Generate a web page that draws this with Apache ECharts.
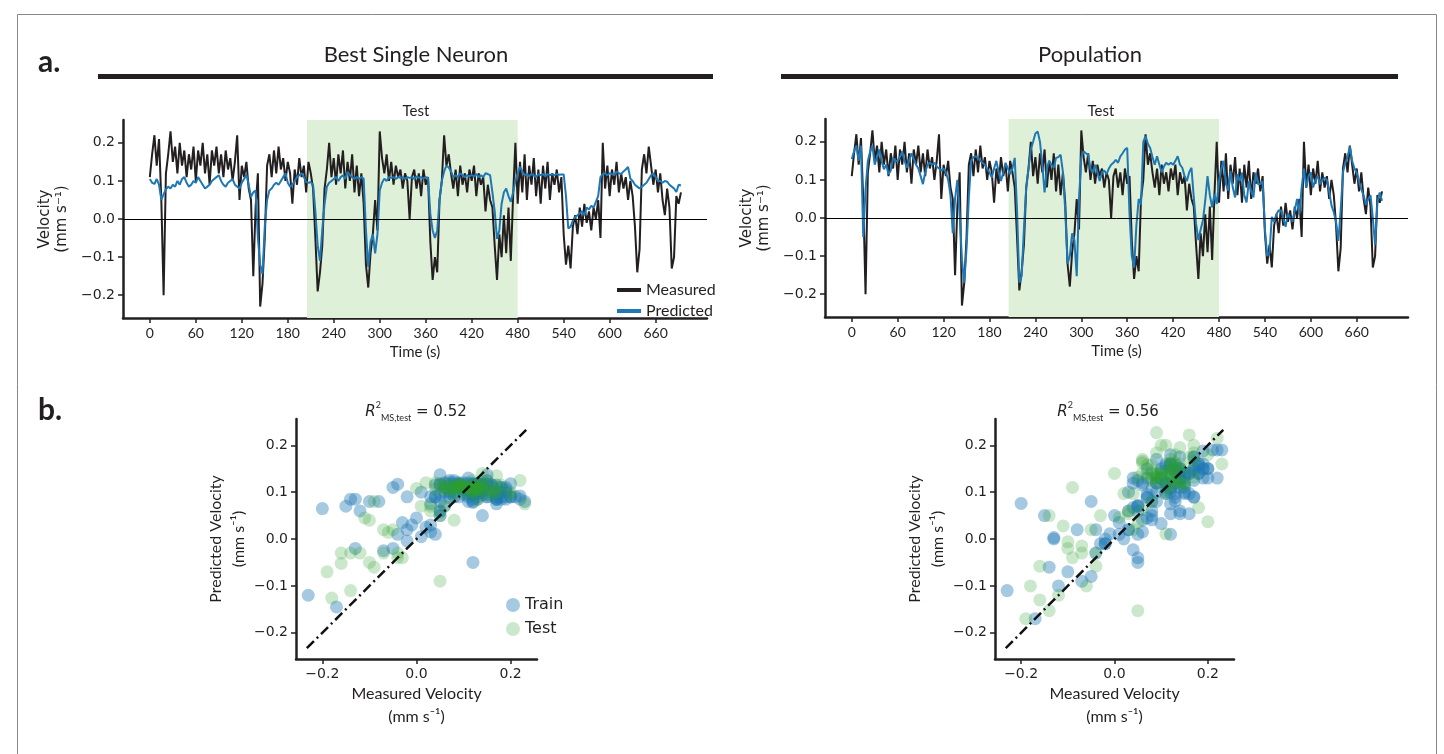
<!DOCTYPE html>
<html>
<head>
<meta charset="utf-8">
<title>Velocity decoding</title>
<script src="https://cdn.jsdelivr.net/npm/echarts@6/dist/echarts.min.js"></script>
<style>
  html, body { margin: 0; padding: 0; background: #fff; }
  #chart { width: 1444px; height: 754px; }
</style>
</head>
<body>
<div id="chart"></div>
<script>
// sampling step of the traces, seconds
const dt = 3;
const testStart = 205;
const testEnd = 480;

const timeTicks = [0, 60, 120, 180, 240, 300, 360, 420, 480, 540, 600, 660];
const velTicks = [-0.2, -0.1, 0, 0.1, 0.2];
const measTicks = [-0.2, 0, 0.2];

const r2Single = '0.52';
const r2Population = '0.56';

// measured velocity (mm/s), one value every 3 s from t = 0
const measured = [
  0.11, 0.17, 0.22, 0.14, 0.21, 0.05, -0.20, 0.12, 0.17, 0.23,
  0.15, 0.19, 0.12, 0.20, 0.14, 0.18, 0.11, 0.17, 0.13, 0.19,
  0.10, 0.18, 0.14, 0.20, 0.12, 0.17, 0.09, 0.18, 0.14, 0.19,
  0.12, 0.17, 0.11, 0.18, 0.13, 0.16, 0.10, 0.15, 0.22, 0.05,
  0.14, 0.11, 0.15, 0.08, 0.05, -0.15, 0.03, 0.12, -0.23, -0.17,
  -0.05, 0.14, 0.17, 0.11, 0.18, 0.12, 0.19, 0.13, 0.16, 0.10,
  0.15, 0.12, 0.04, 0.13, 0.09, 0.16, 0.11, 0.14, 0.07, 0.15,
  0.12, 0.08, -0.05, -0.19, -0.14, -0.07, 0.08, 0.13, 0.20, 0.11,
  0.16, 0.09, 0.17, 0.12, 0.18, 0.08, 0.15, 0.10, 0.17, 0.07,
  0.14, 0.06, 0.12, 0.04, -0.12, -0.18, -0.09, -0.04, 0.05, -0.03,
  0.23, 0.16, 0.12, 0.17, 0.10, 0.15, 0.09, 0.14, 0.11, 0.13,
  0.08, 0.12, 0.10, 0.00, 0.11, 0.13, 0.08, 0.12, 0.06, 0.13,
  0.09, 0.11, -0.06, -0.16, -0.10, -0.14, 0.05, 0.10, 0.22, 0.14,
  0.17, 0.12, 0.08, 0.13, 0.06, 0.14, 0.09, 0.12, 0.07, 0.13,
  0.10, 0.14, 0.06, 0.12, 0.09, 0.11, 0.02, 0.09, 0.05, 0.03,
  -0.07, -0.16, -0.04, -0.10, 0.01, -0.09, 0.03, -0.11, 0.06, 0.20,
  0.04, 0.15, 0.07, 0.17, 0.05, 0.14, 0.09, 0.16, 0.06, 0.13,
  0.04, 0.14, 0.08, 0.15, 0.05, 0.12, 0.09, 0.13, 0.07, 0.11,
  -0.04, -0.12, -0.07, -0.13, -0.02, 0.01, -0.04, 0.03, -0.02, 0.04,
  -0.01, 0.02, -0.03, 0.03, 0.00, 0.05, -0.05, 0.20, 0.08, 0.14,
  0.06, 0.13, 0.09, 0.15, 0.07, 0.12, 0.08, 0.11, 0.05, 0.10,
  0.06, -0.02, -0.14, -0.08, 0.13, 0.17, 0.12, 0.19, 0.14, 0.09,
  0.13, 0.07, 0.12, 0.05, 0.01, 0.08, 0.03, -0.13, -0.10, 0.06,
  0.04, 0.07
];

// prediction from the best single neuron
const predSingle = [
  0.105, 0.095, 0.092, 0.105, 0.09, 0.05, 0.065, 0.078, 0.085, 0.08,
  0.09, 0.085, 0.10, 0.09, 0.105, 0.11, 0.095, 0.085, 0.09, 0.10,
  0.095, 0.11, 0.10, 0.09, 0.08, 0.085, 0.09, 0.10, 0.105, 0.11,
  0.115, 0.10, 0.09, 0.085, 0.095, 0.10, 0.105, 0.09, 0.085, 0.08,
  0.095, 0.105, 0.117, 0.09, 0.058, 0.07, 0.075, -0.05, -0.12, -0.145,
  -0.02, 0.05, 0.075, 0.08, 0.09, 0.095, 0.09, 0.10, 0.11, 0.12,
  0.095, 0.085, 0.09, 0.10, 0.11, 0.115, 0.12, 0.11, 0.097, 0.095,
  0.097, 0.09, 0.02, -0.07, -0.11, -0.03, 0.04, 0.085, 0.095, 0.10,
  0.105, 0.11, 0.10, 0.11, 0.115, 0.105, 0.124, 0.115, 0.11, 0.105,
  0.11, 0.105, 0.11, 0.106, -0.03, -0.126, -0.06, -0.04, -0.09, -0.04,
  0.075, 0.095, 0.106, 0.10, 0.11, 0.108, 0.11, 0.105, 0.11, 0.108,
  0.11, 0.105, 0.11, 0.108, 0.11, 0.105, 0.112, 0.108, 0.11, 0.106,
  0.11, 0.108, 0.014, -0.03, -0.05, -0.03, 0.05, 0.10, 0.125, 0.14,
  0.135, 0.125, 0.11, 0.115, 0.11, 0.12, 0.115, 0.11, 0.115, 0.112,
  0.115, 0.112, 0.118, 0.11, 0.115, 0.11, 0.12, 0.118, 0.115, 0.07,
  0.02, -0.052, -0.03, 0.04, 0.07, 0.08, 0.06, 0.045, 0.07, 0.10,
  0.12, 0.137, 0.125, 0.115, 0.118, 0.112, 0.118, 0.115, 0.11, 0.118,
  0.115, 0.118, 0.112, 0.118, 0.115, 0.118, 0.115, 0.118, 0.116, 0.117,
  0.117, 0.06, -0.025, -0.02, -0.004, 0.005, 0.01, 0.015, 0.02, 0.01,
  0.03, 0.025, 0.035, 0.03, 0.045, 0.06, 0.11, 0.118, 0.12, 0.115,
  0.12, 0.118, 0.115, 0.125, 0.12, 0.118, 0.125, 0.13, 0.137, 0.106,
  0.10, 0.09, 0.085, 0.08, 0.085, 0.09, 0.095, 0.105, 0.115, 0.12,
  0.11, 0.10, 0.10, 0.095, 0.10, 0.098, 0.09, 0.085, 0.08, 0.071,
  0.09, 0.088
];

// prediction from the whole population
const predPopulation = [
  0.155, 0.175, 0.19, 0.15, 0.19, -0.05, 0.076, 0.15, 0.175, 0.19,
  0.14, 0.16, 0.18, 0.15, 0.128, 0.14, 0.115, 0.125, 0.158, 0.15,
  0.15, 0.16, 0.175, 0.15, 0.132, 0.15, 0.17, 0.155, 0.14, 0.13,
  0.11, 0.089, 0.12, 0.14, 0.145, 0.14, 0.145, 0.135, 0.13, 0.125,
  0.13, 0.12, 0.10, 0.06, -0.04, 0.05, 0.10, 0.01, -0.11, -0.17,
  -0.08, 0.054, 0.15, 0.16, 0.162, 0.158, 0.15, 0.145, 0.14, 0.128,
  0.12, 0.106, 0.13, 0.15, 0.12, 0.097, 0.12, 0.145, 0.13, 0.115,
  0.13, 0.158, 0.02, -0.17, -0.153, -0.03, 0.08, 0.13, 0.18, 0.20,
  0.222, 0.227, 0.20, 0.14, 0.067, 0.13, 0.15, 0.14, 0.132, 0.158,
  0.16, 0.166, 0.12, 0.02, -0.12, -0.10, -0.04, -0.058, -0.153, 0.05,
  0.16, 0.175, 0.17, 0.166, 0.13, 0.119, 0.14, 0.12, 0.097, 0.12,
  0.125, 0.115, 0.13, 0.14, 0.145, 0.153, 0.145, 0.162, 0.17, 0.18,
  0.184, 0.011, -0.10, -0.13, -0.02, 0.05, 0.035, 0.20, 0.215, 0.195,
  0.184, 0.16, 0.14, 0.162, 0.14, 0.12, 0.135, 0.145, 0.14, 0.145,
  0.14, 0.15, 0.162, 0.14, 0.132, 0.11, 0.097, 0.12, 0.132, 0.054,
  -0.015, -0.058, -0.03, -0.006, 0.046, 0.11, 0.06, 0.028, 0.063, 0.037,
  0.097, 0.13, 0.15, 0.09, 0.072, 0.123, 0.08, 0.054, 0.115, 0.097,
  0.119, 0.06, 0.041, 0.097, 0.07, 0.054, 0.119, 0.089, 0.089, 0.097,
  -0.03, -0.10, -0.09, 0.003, -0.01, 0.01, 0.02, 0.02, 0.00, -0.023,
  0.011, 0.0, -0.01, 0.02, 0.05, 0.01, 0.08, 0.13, 0.08, 0.11,
  0.12, 0.08, 0.10, 0.11, 0.089, 0.10, 0.106, 0.10, 0.07, 0.033,
  0.015, -0.01, -0.06, 0.02, 0.12, 0.145, 0.16, 0.188, 0.15, 0.13,
  0.119, 0.095, 0.075, 0.059, 0.035, 0.05, 0.06, 0.0, -0.07, 0.04,
  0.067, 0.045
];

const INK = '#231f20';
const BLUE = '#1f77b4';
const SANS = 'Lato, "Open Sans", sans-serif';
const MPL = '"DejaVu Sans", sans-serif';

const trace = vals => vals.map((v, i) => [i * dt, v]);
const isTest = i => i * dt >= testStart && i * dt <= testEnd;
const pairs = (pred, wantTest) =>
  measured.map((m, i) => [m, pred[i], i]).filter(p => isTest(p[2]) === wantTest).map(p => [p[0], p[1]]);

const fmt = v => (v < 0 ? '\u2212' : '') + Math.abs(v).toFixed(1);

const chart = echarts.init(document.getElementById('chart'));

function timeAxis(gridIndex) {
  return {
    type: 'value', gridIndex, min: -35, max: 727,
    name: 'Time (s)', nameLocation: 'middle', nameGap: 27,
    nameTextStyle: { fontFamily: SANS, fontSize: 15, color: INK },
    axisLine: { onZero: false, lineStyle: { color: INK, width: 2.5 } },
    axisTick: { customValues: timeTicks, length: 5, lineStyle: { color: INK, width: 1.5 } },
    axisLabel: { customValues: timeTicks, margin: 8, fontFamily: SANS, fontSize: 14, color: INK },
    splitLine: { show: false }
  };
}

function velAxis(gridIndex) {
  return {
    type: 'value', gridIndex, min: -0.26, max: 0.26,
    name: 'Velocity\n(mm s\u207B\u00B9)', nameLocation: 'middle', nameGap: 52, nameRotate: 90,
    nameTextStyle: { fontFamily: MPL, fontSize: 15, lineHeight: 17, color: INK },
    axisLine: { onZero: false, lineStyle: { color: INK, width: 2.5 } },
    axisTick: { customValues: velTicks, length: 5, lineStyle: { color: INK, width: 1.5 } },
    axisLabel: { customValues: velTicks, margin: 8, fontFamily: MPL, fontSize: 14, color: INK, formatter: fmt },
    splitLine: { show: false }
  };
}

function scatterAxis(gridIndex, isX) {
  const ticks = isX ? measTicks : velTicks;
  return {
    type: 'value', gridIndex, min: -0.256, max: 0.256,
    name: isX ? 'Measured Velocity\n(mm s\u207B\u00B9)' : 'Predicted Velocity\n(mm s\u207B\u00B9)',
    nameLocation: 'middle', nameGap: isX ? 22 : 46, nameRotate: isX ? 0 : 90,
    nameTextStyle: { fontFamily: SANS, fontSize: 16, lineHeight: 23, color: INK },
    axisLine: { onZero: false, lineStyle: { color: INK, width: 2.5 } },
    axisTick: { customValues: ticks, length: 5, lineStyle: { color: INK, width: 1.5 } },
    axisLabel: { customValues: ticks, margin: 8, fontFamily: MPL, fontSize: 14, color: INK, formatter: fmt },
    splitLine: { show: false }
  };
}

function tracePanel(gi, pred) {
  return [
    {
      type: 'line', xAxisIndex: gi, yAxisIndex: gi, data: [], z: 1, silent: true,
      markArea: {
        silent: true,
        itemStyle: { color: '#dff0d8' },
        data: [[{ xAxis: testStart }, { xAxis: testEnd }]]
      }
    },
    {
      type: 'line', xAxisIndex: gi, yAxisIndex: gi, data: [], z: 2, silent: true,
      markLine: {
        silent: true, symbol: 'none', label: { show: false },
        lineStyle: { color: '#000', width: 1, type: 'solid' },
        data: [{ yAxis: 0 }]
      }
    },
    {
      name: 'Measured', type: 'line', xAxisIndex: gi, yAxisIndex: gi, z: 3,
      data: trace(measured), showSymbol: false,
      lineStyle: { color: INK, width: 2 }, itemStyle: { color: INK }
    },
    {
      name: 'Predicted', type: 'line', xAxisIndex: gi, yAxisIndex: gi, z: 4,
      data: trace(pred), showSymbol: false,
      lineStyle: { color: BLUE, width: 2 }, itemStyle: { color: BLUE }
    }
  ];
}

function scatterPanel(gi, pred) {
  return [
    {
      name: 'Train', type: 'scatter', xAxisIndex: gi, yAxisIndex: gi, z: 2,
      symbolSize: 13, data: pairs(pred, false),
      itemStyle: { color: 'rgba(31,119,180,0.5)' }
    },
    {
      name: 'Test', type: 'scatter', xAxisIndex: gi, yAxisIndex: gi, z: 3,
      symbolSize: 13, data: pairs(pred, true),
      itemStyle: { color: 'rgba(44,160,44,0.3)' }
    },
    {
      type: 'line', xAxisIndex: gi, yAxisIndex: gi, z: 4, silent: true,
      data: [[-0.233, -0.233], [0.233, 0.233]], showSymbol: false,
      lineStyle: { color: '#111', width: 2.5, type: [10, 4, 2, 4] }
    }
  ];
}

function r2Text(x, value) {
  return {
    type: 'text', x, y: 412,
    style: {
      text: '{i|R}{sup|2}{sub|MS,test}{n| = ' + value + '}',
      textAlign: 'center', textVerticalAlign: 'middle', align: 'center', verticalAlign: 'middle',
      rich: {
        i: { fontFamily: MPL, fontStyle: 'italic', fontSize: 15, lineHeight: 22, fill: INK, verticalAlign: 'middle' },
        sup: { fontFamily: SANS, fontSize: 9, lineHeight: 22, fill: INK, verticalAlign: 'top' },
        sub: { fontFamily: SANS, fontSize: 9, lineHeight: 22, fill: INK, verticalAlign: 'bottom' },
        n: { fontFamily: MPL, fontSize: 15, lineHeight: 22, fill: INK, verticalAlign: 'middle' }
      }
    }
  };
}

function label(x, y, text, font) {
  return {
    type: 'text', x, y,
    style: { text, font, fill: INK, textAlign: 'center', textVerticalAlign: 'middle', align: 'center', verticalAlign: 'middle' }
  };
}

const option = {
  animation: false,
  backgroundColor: '#fff',
  grid: [
    { left: 123, top: 120, width: 584, height: 198 },
    { left: 825, top: 119, width: 583, height: 198 },
    { left: 296, top: 419, width: 241, height: 240 },
    { left: 995, top: 419, width: 239, height: 240 }
  ],
  xAxis: [timeAxis(0), timeAxis(1), scatterAxis(2, true), scatterAxis(3, true)],
  yAxis: [velAxis(0), velAxis(1), scatterAxis(2, false), scatterAxis(3, false)],
  legend: [
    {
      data: ['Measured', 'Predicted'], left: 612, top: 277, orient: 'vertical',
      icon: 'rect', itemWidth: 24, itemHeight: 4, itemGap: 5,
      textStyle: { fontFamily: SANS, fontSize: 16, color: INK }
    },
    {
      data: ['Train', 'Test'], left: 501, top: 592, orient: 'vertical',
      icon: 'circle', itemWidth: 14, itemHeight: 14, itemGap: 8,
      textStyle: { fontFamily: MPL, fontSize: 16, color: INK }
    }
  ],
  series: [
    ...tracePanel(0, predSingle),
    ...tracePanel(1, predPopulation),
    ...scatterPanel(2, predSingle),
    ...scatterPanel(3, predPopulation)
  ],
  graphic: [
    { type: 'rect', shape: { x: 17.5, y: 14.5, width: 1419, height: 760 }, style: { fill: 'none', stroke: '#888', lineWidth: 1 }, silent: true },
    { type: 'text', x: 38, y: 62, style: { text: 'a.', font: 'bold 30px ' + SANS, fill: INK, textVerticalAlign: 'middle', verticalAlign: 'middle' } },
    { type: 'text', x: 38, y: 410, style: { text: 'b.', font: 'bold 30px ' + SANS, fill: INK, textVerticalAlign: 'middle', verticalAlign: 'middle' } },
    label(416, 55, 'Best Single Neuron', '22px ' + SANS),
    label(1090, 55, 'Population', '22px ' + SANS),
    { type: 'rect', shape: { x: 98, y: 74, width: 615, height: 5 }, style: { fill: INK }, silent: true },
    { type: 'rect', shape: { x: 781, y: 74, width: 617, height: 5 }, style: { fill: INK }, silent: true },
    label(416, 111, 'Test', '15px ' + SANS),
    label(1101, 111, 'Test', '15px ' + SANS),
    r2Text(416, r2Single),
    r2Text(1108, r2Population)
  ]
};

chart.setOption(option);
</script>
</body>
</html>
